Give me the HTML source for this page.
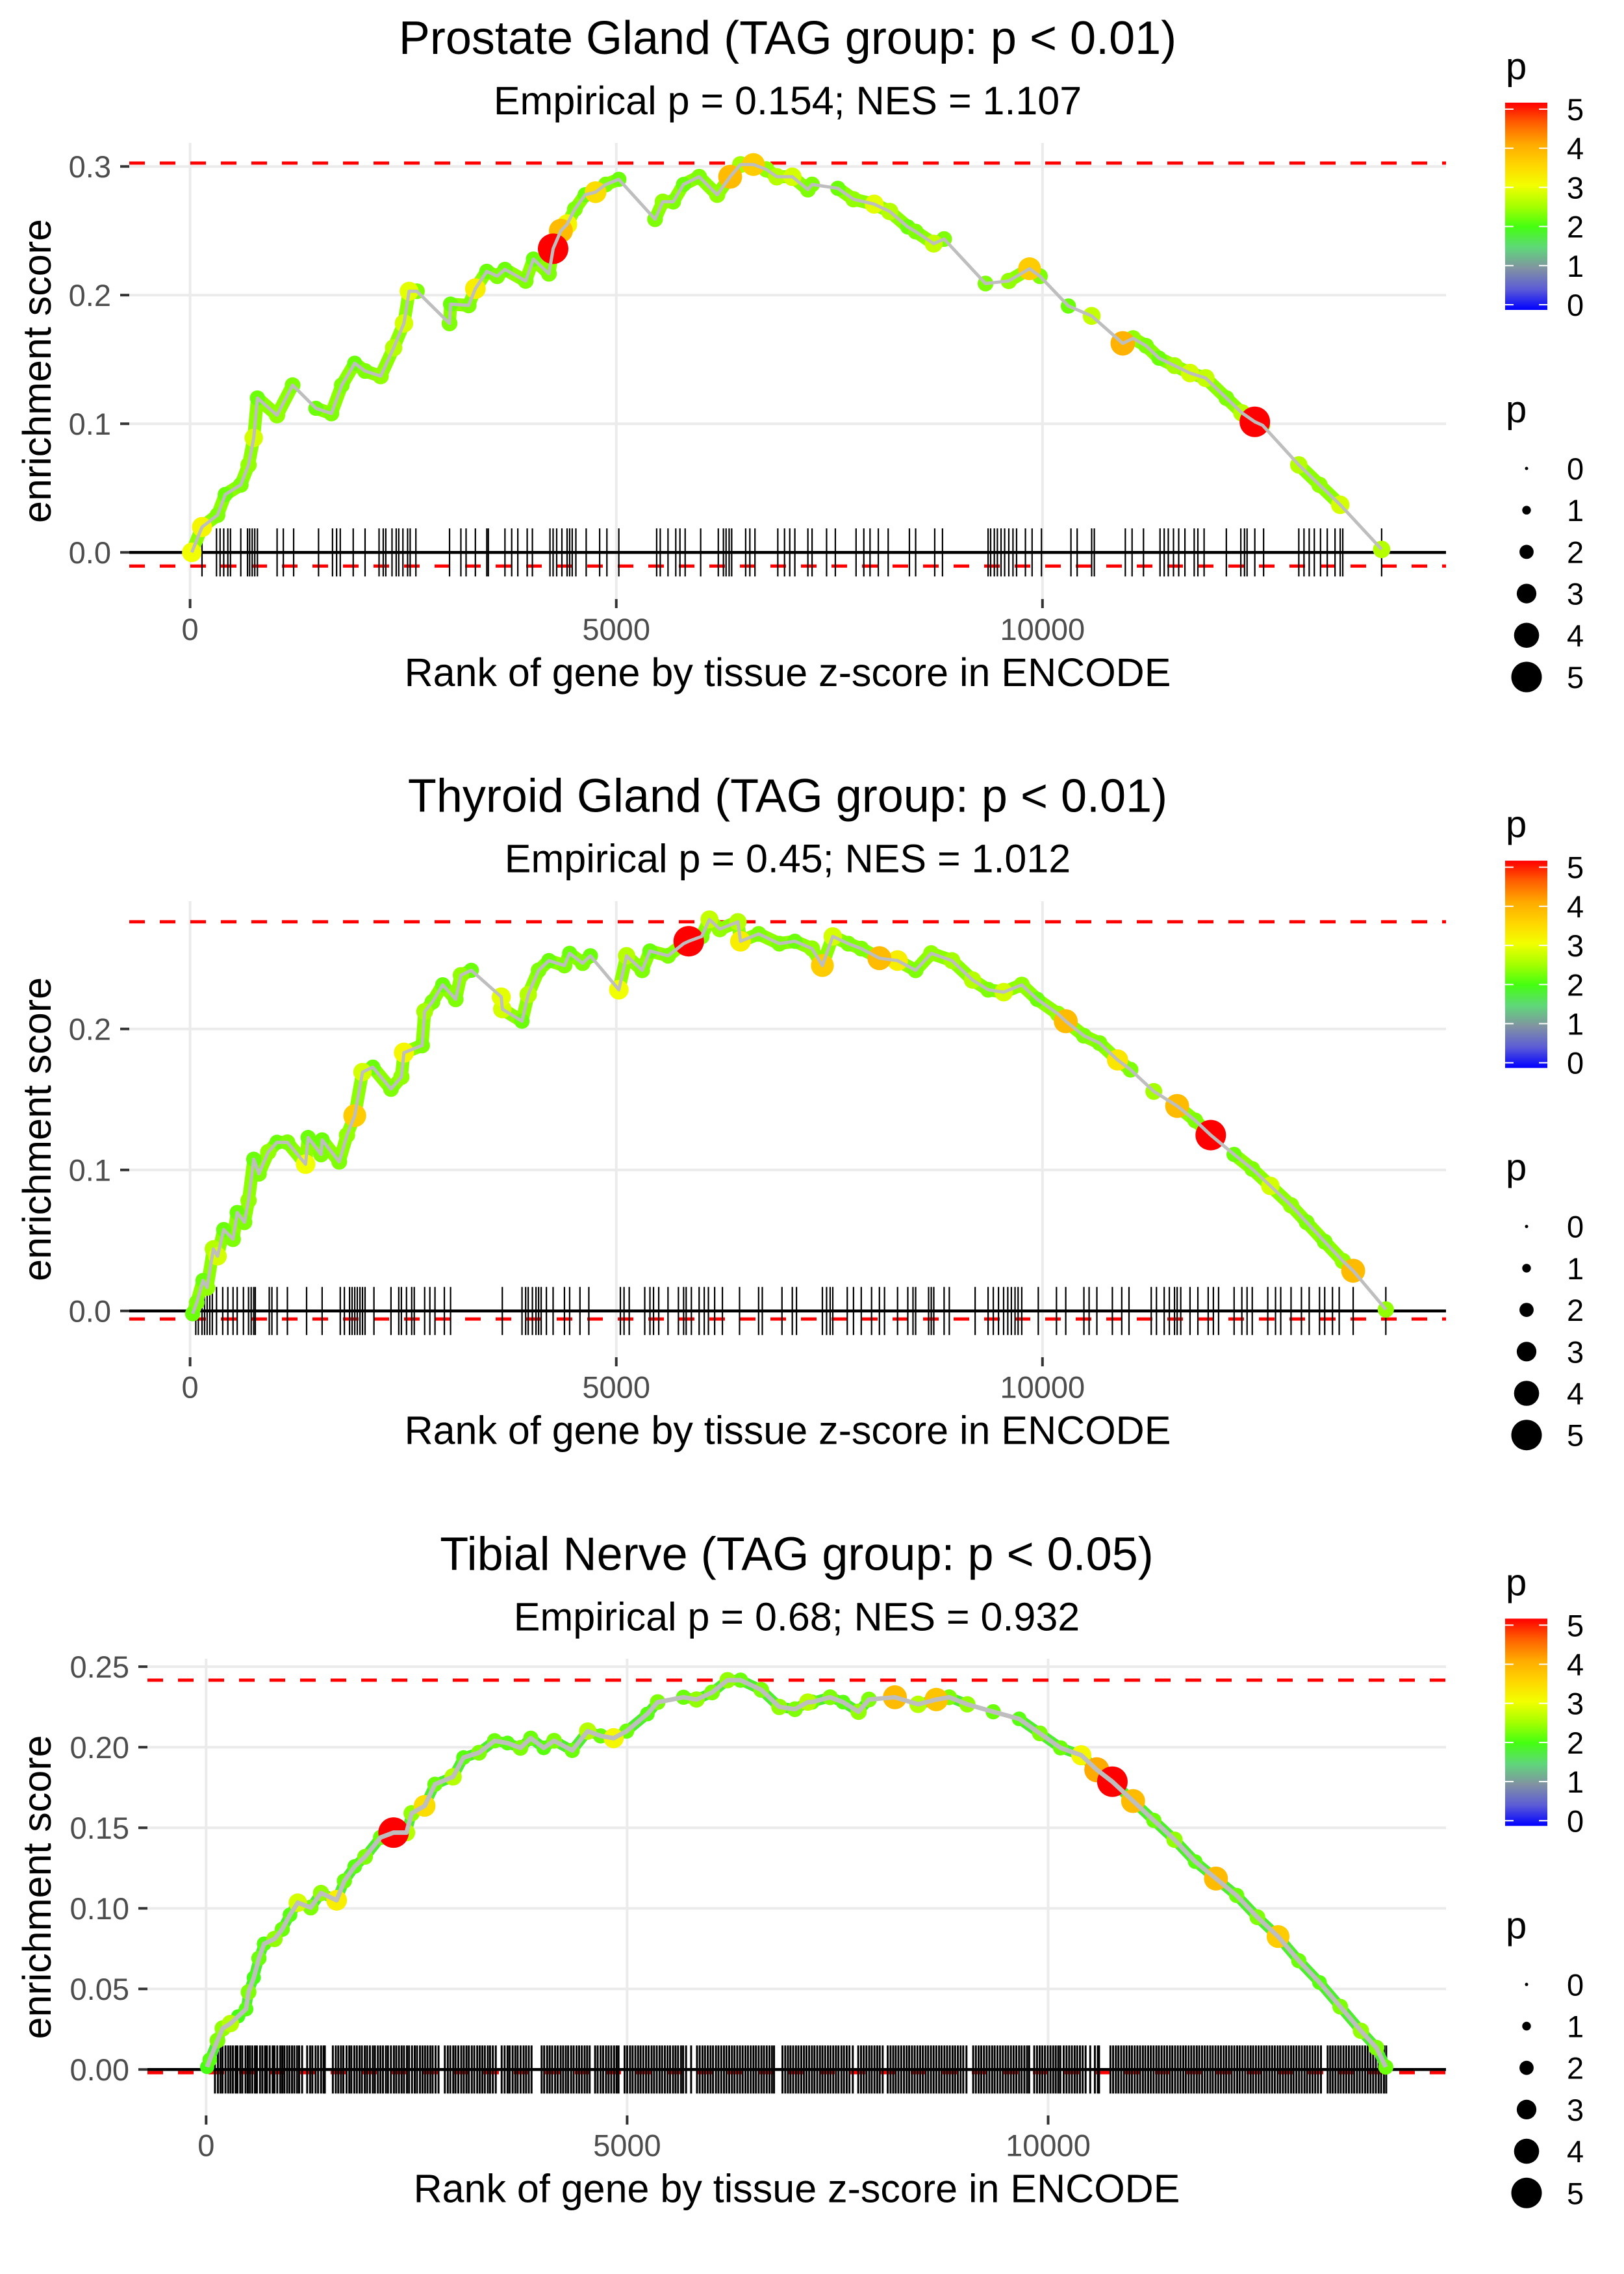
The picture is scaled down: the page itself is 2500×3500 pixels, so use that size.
<!DOCTYPE html>
<html><head><meta charset="utf-8"><style>
html,body{margin:0;padding:0;background:#fff;}
svg{display:block;font-family:"Liberation Sans",Arial,sans-serif;}
</style></head><body>
<svg id="fig" width="2500" height="3500" viewBox="0 0 2500 3500" xmlns="http://www.w3.org/2000/svg">
<defs>
<linearGradient id="pgrad" x1="0" y1="1" x2="0" y2="0">
<stop offset="0" stop-color="#0000ff"/><stop offset="0.1" stop-color="#5c5cd6"/><stop offset="0.2" stop-color="#8192a2"/>
<stop offset="0.3" stop-color="#5fd77a"/><stop offset="0.4" stop-color="#44ff11"/><stop offset="0.5" stop-color="#a6ff00"/>
<stop offset="0.6" stop-color="#f2ff00"/><stop offset="0.7" stop-color="#ffd500"/><stop offset="0.8" stop-color="#ffaa00"/>
<stop offset="0.9" stop-color="#ff6000"/><stop offset="1" stop-color="#ff0000"/>
</linearGradient>
</defs>
</svg>
<script>
// ---------- data: panel 1 (Prostate Gland) ----------
const ranks1=[20,140,322,413,595,686,747,790,1020,1203,1476,1658,1780,1932,2053,2236,2388,2509,2570,2661,3044,3056,3268,3347,3481,3603,3694,3937,4028,4210,4259,4350,4423,4514,4635,4757,4878,5030,5455,5546,5668,5789,5972,6184,6336,6457,6609,6761,6883,7065,7248,7297,7600,7783,8026,8208,8420,8512,8724,8846,9332,9605,9848,9970,10304,10577,10942,11063,11215,11367,11549,11731,11914,12157,12339,12491,12582,13007,13250,13493,13979];
const scores1=[0,0.0197,0.029,0.045,0.0525,0.068,0.089,0.12,0.1066,0.13,0.112,0.108,0.13,0.147,0.141,0.137,0.159,0.178,0.203,0.203,0.178,0.193,0.192,0.205,0.2185,0.2147,0.22,0.211,0.228,0.2166,0.236,0.25,0.255,0.2668,0.278,0.28,0.286,0.29,0.259,0.2726,0.2726,0.286,0.292,0.278,0.292,0.3015,0.3015,0.2977,0.292,0.292,0.282,0.286,0.283,0.2745,0.2707,0.265,0.253,0.2494,0.24,0.2436,0.209,0.211,0.2205,0.2147,0.1915,0.1838,0.1625,0.1664,0.1606,0.151,0.1452,0.1394,0.1355,0.12,0.1085,0.1015,0.0988,0.068,0.0525,0.037,0.0023];
const pvals1=[3,3.1,2.3,2.2,2.3,2.4,2.8,2.2,2.4,2.3,2.2,2.3,2.3,2.2,2.3,2.4,2.6,2.8,2.9,2.3,2.3,2.2,2.3,3.2,2.2,2.3,2.2,2.3,2.2,2.3,5,3.8,3.1,2.3,2.2,3.4,2.3,2.2,2.3,2.4,2.3,2.2,2.3,2.4,3.8,2.5,3.6,2.4,2.6,2.8,2.3,2.3,2.2,2.4,2.9,2.6,2.2,2.3,2.7,2.3,2.3,2.4,3.6,2.3,2.2,2.7,3.9,2.4,2.3,2.2,2.5,2.8,2.7,2.3,2.6,5,2.2,2.6,2.4,2.8,2.6];
const rug1=[140,310,352,395,443,474,595,674,699,729,759,790,1021,1094,1215,1507,1671,1719,1762,1914,2053,2217,2266,2296,2369,2418,2448,2497,2552,2582,2649,3044,3177,3238,3347,3481,3499,3694,3773,3845,3955,4016,4222,4259,4301,4362,4423,4453,4483,4526,4647,4805,4890,5030,5474,5516,5607,5698,5747,5808,5990,6197,6257,6288,6324,6354,6518,6567,6627,6895,6974,7035,7095,7248,7297,7467,7570,7813,7904,7977,8074,8190,8439,8512,8736,8827,9362,9392,9435,9471,9514,9556,9605,9654,9696,9800,9878,9988,10334,10407,10577,10608,10972,11051,11185,11379,11428,11476,11537,11598,11671,11780,11823,11896,12157,12327,12370,12400,12491,12594,13007,13068,13129,13189,13262,13341,13432,13493,13523,13979];
const yTicks1=[0,0.1,0.2,0.3];
const yTickLabels1=["0.0","0.1","0.2","0.3"];
const esMax1=0.3026, esMin1=-0.0106;

// ---------- data: panel 2 (Thyroid Gland) ----------
const ranks2=[30,79,152,200,273,322,395,504,553,638,686,747,808,917,1020,1142,1355,1385,1537,1549,1750,1841,1932,2023,2144,2357,2479,2509,2722,2752,2843,2964,3116,3177,3299,3651,3663,3894,3967,4089,4210,4392,4453,4605,4696,5030,5121,5304,5395,5608,5790,5850,6002,6093,6215,6427,6457,6670,6913,7095,7296,7418,7540,7722,7874,8087,8300,8512,8695,8938,9180,9363,9545,9757,9939,10182,10273,10486,10669,10881,11033,11306,11580,11792,11974,12248,12461,12673,12916,13099,13311,13524,13645,14028];
const scores2=[-0.002,0.006,0.0216,0.0165,0.044,0.0388,0.0577,0.0509,0.0698,0.0629,0.0784,0.1076,0.0973,0.1127,0.1196,0.1196,0.1041,0.123,0.111,0.1213,0.1058,0.1247,0.1385,0.1694,0.1729,0.1574,0.166,0.1832,0.1883,0.2124,0.2192,0.2313,0.221,0.2381,0.2416,0.2227,0.2141,0.2055,0.2244,0.2416,0.2485,0.245,0.2536,0.2467,0.2519,0.2278,0.2519,0.2416,0.2553,0.2519,0.2605,0.2622,0.2656,0.2777,0.2708,0.276,0.2622,0.2674,0.2605,0.2622,0.257,0.245,0.2656,0.2605,0.257,0.2502,0.2485,0.2416,0.2536,0.2485,0.2347,0.2278,0.2261,0.2313,0.221,0.2107,0.2055,0.1952,0.19,0.178,0.1711,0.1557,0.1454,0.1351,0.1247,0.111,0.1007,0.0887,0.0749,0.0629,0.0491,0.0354,0.0285,0.001];
const pvals2=[2.2,2.3,2.2,2.4,2.6,2.8,2.2,2.3,2.2,2.3,2.4,2.2,2.3,2.4,2.2,2.3,3,2.2,2.3,2.2,2.3,2.4,3.6,2.8,2.2,2.3,2.4,3.1,2.3,2.5,2.3,2.2,2.3,2.4,2.2,2.9,2.8,2.2,2.6,2.3,2.2,2.3,2.2,2.3,2.2,3,2.6,2.3,2.2,2.3,2.2,5,2.3,2.7,2.4,2.6,3.2,2.3,2.3,2.2,2.4,3.6,2.8,2.3,2.3,3.8,3.2,2.3,2.4,2.5,2.6,2.3,2.8,2.4,2.2,2.4,3.8,2.3,2.3,3.3,2.3,2.5,3.8,2.3,5,2.2,2.3,2.8,2.4,2.3,2.3,2.4,3.8,2.4];
const rug2=[67,97,140,170,200,231,261,310,383,443,504,553,626,686,717,747,765,929,960,1021,1142,1367,1549,1762,1810,1871,1901,1932,1962,1993,2023,2053,2157,2357,2448,2479,2539,2600,2630,2752,2813,2873,2983,3056,3663,3894,3937,3967,4016,4058,4089,4119,4180,4259,4392,4453,4574,4678,5048,5091,5152,5334,5395,5437,5498,5607,5729,5790,5820,5881,5972,6032,6081,6154,6245,6446,6670,6713,6944,7065,7114,7418,7467,7509,7540,7710,7783,7874,7995,8087,8147,8300,8420,8481,8512,8664,8695,8725,8846,8907,9210,9362,9423,9484,9544,9593,9635,9678,9714,9757,9951,10164,10273,10486,10547,10638,10820,10930,11015,11276,11337,11428,11488,11549,11580,11622,11731,11823,11944,12005,12066,12248,12339,12400,12461,12643,12734,12795,12916,13038,13129,13250,13311,13402,13481,13645,14028];
const yTicks2=[0,0.1,0.2];
const yTickLabels2=["0.0","0.1","0.2"];
const esMax2=0.276, esMin2=-0.0057;

// ---------- data: panel 3 (Tibial Nerve) ----------
const ranks3=[12,43,135,197,289,381,474,504,566,627,689,812,904,996,1089,1242,1365,1550,1642,1765,1888,2072,2226,2380,2441,2595,2718,2933,3057,3241,3426,3579,3733,3856,4010,4133,4348,4532,4686,4840,4994,5240,5363,5670,5824,6009,6193,6347,6593,6808,6993,7146,7196,7411,7565,7749,7872,8180,8456,8672,8825,9041,9348,9656,9902,10148,10394,10578,10763,11009,11255,11501,11747,11993,12239,12485,12731,12977,13223,13469,13715,13899,14010];
const scores3=[0.0015,0.006,0.018,0.0255,0.0285,0.033,0.0375,0.048,0.057,0.069,0.078,0.081,0.087,0.096,0.1035,0.1005,0.1095,0.105,0.117,0.126,0.132,0.144,0.147,0.147,0.159,0.1636,0.177,0.1816,0.1936,0.1966,0.204,0.2026,0.1996,0.2056,0.1996,0.204,0.198,0.21,0.207,0.2056,0.21,0.2206,0.228,0.231,0.2296,0.234,0.2416,0.2416,0.2356,0.225,0.2236,0.228,0.228,0.231,0.228,0.222,0.2296,0.231,0.2266,0.2296,0.231,0.2266,0.222,0.2176,0.2086,0.1996,0.195,0.186,0.1786,0.1666,0.1546,0.1426,0.129,0.1185,0.108,0.0945,0.0825,0.0675,0.054,0.039,0.024,0.0135,0.0015];
const pvals3=[2,2.1,2.3,2.4,2.6,2,2.1,2.3,2,2.2,2.1,2.4,2.2,2.1,2.8,2.3,2.4,3.2,2.2,2.1,2.3,2.2,5,2.6,2.4,3.4,2.2,2.6,2.1,2.3,2.2,2.1,2.3,2.2,2.1,2.3,2.2,2.6,2.2,3.1,2.2,2.1,2.3,2.2,2.4,2.3,2.4,2.2,2.3,2.4,2.3,2.6,2.2,2.3,2.1,2.4,2.3,3.8,2.6,3.7,2.3,2.4,2.2,2.1,2.3,2.2,3.1,4,5,3.8,2.2,2.4,2.1,3.8,2.2,2.3,3.6,2.2,2.1,2.3,2.4,2.3,2.2];
const rug3=[105,140,170,195,230,262,290,318,350,372,405,430,468,495,520,548,580,603,640,668,700,722,755,790,812,845,880,905,930,962,990,1020,1048,1080,1105,1140,
1200,1235,1262,1300,1330,1365,1395,1410,
1505,1540,1570,1602,1630,1668,1700,1725,1760,1790,1822,1850,1885,1912,1945,1980,2005,2040,2070,2100,2135,2160,2195,2230,2258,2290,2322,2350,2385,2410,2445,2478,2505,2540,2570,2600,2630,2662,2690,2725,2760,
2835,2870,2900,2935,2962,2995,3030,3060,3092,3120,3155,3185,3220,3250,3280,3310,3345,3372,3405,3440,
3510,3545,3580,3605,3640,3672,3700,3735,3770,3800,3832,3865,
3985,4015,4050,4080,4110,4145,4175,4210,4240,4272,4300,4335,4365,4400,4430,4462,4495,4525,4555,
4620,4650,4685,4715,4750,4780,4812,4845,4875,4898,
4970,5000,5035,5065,5098,5130,5160,5192,5225,5255,5290,5320,5352,5385,5415,5448,5480,5510,5545,5575,5605,5640,5665,5700,5760,
5830,5862,5895,5925,5958,5990,6020,6055,6085,6118,6150,6180,6212,6245,6275,6308,6340,6372,6405,6435,6468,6500,6530,6562,6595,6625,6658,6690,6720,6745,
6845,6878,6910,6940,6972,7005,7035,7068,7100,7130,7162,7195,7225,7258,7290,7320,7352,7385,7415,7448,7480,7510,7545,7575,7608,7640,7680,
7745,7778,7810,7842,7875,7905,7938,7970,8000,8035,
8095,8128,8160,8190,8222,8255,8288,8320,8350,8383,8415,8448,8480,8512,8545,8575,8608,8640,8672,8705,8735,8768,8800,8832,8865,8895,8928,8960,8992,9030,
9110,9142,9175,9205,9238,9270,9302,9335,9365,9398,9430,9462,9495,9525,9558,9590,9622,9655,9685,9718,9750,9775,
9835,9868,9900,9930,9962,9995,10028,10060,10090,10120,10145,
10185,10218,10250,10282,10315,10345,10378,10410,10445,10500,10555,10590,10605,
10740,10772,10805,10835,10868,10900,10932,10965,10995,11028,11060,11092,11125,11155,11188,11220,11252,11285,11315,11348,11380,11412,11445,11475,11508,11540,11572,11605,11635,11668,11700,11732,11765,11795,11828,11860,11892,11925,11955,11988,12020,12052,12085,12115,12148,12180,12212,12245,12275,12308,12340,12372,12405,12435,12468,12500,12532,12565,12595,12628,12660,12692,12725,12755,12788,12820,12852,12885,12915,12948,12980,13012,13045,13075,13108,13140,13172,13205,13240,
13320,13350,13380,13412,13445,13475,13508,13540,13572,13605,13635,13668,13700,13732,13765,13795,13828,13860,13892,13925,13955,13988,14015];
const yTicks3=[0,0.05,0.1,0.15,0.2,0.25];
const yTickLabels3=["0.00","0.05","0.10","0.15","0.20","0.25"];
const esMax3=0.2416, esMin3=-0.002;

const xTicks=[0,5000,10000];
const xTickLabels=["0","5000","10000"];
const legendValues=[0,1,2,3,4,5];

const titles=["Prostate Gland (TAG group: p < 0.01)","Thyroid Gland (TAG group: p < 0.01)","Tibial Nerve (TAG group: p < 0.05)"];
const subtitles=["Empirical p = 0.154; NES = 1.107","Empirical p = 0.45; NES = 1.012","Empirical p = 0.68; NES = 0.932"];

// ---------- layout ----------
const NS="http://www.w3.org/2000/svg";
const svg=document.getElementById('fig');
function mk(tag,attrs,parent){const e=document.createElementNS(NS,tag);for(const k in attrs)e.setAttribute(k,attrs[k]);(parent||svg).appendChild(e);return e;}
const stops=[[0,[0,0,255]],[0.5,[92,92,214]],[1,[129,146,162]],[1.5,[95,215,122]],[2,[68,255,17]],[2.5,[166,255,0]],[3,[242,255,0]],[3.5,[255,213,0]],[4,[255,170,0]],[4.5,[255,96,0]],[5,[255,0,0]]];
function pColor(p){p=Math.max(0,Math.min(5,p));for(let i=1;i<stops.length;i++){if(p<=stops[i][0]){const a=stops[i-1],b=stops[i];const t=(p-a[0])/(b[0]-a[0]);const c=a[1].map((v,j)=>Math.round(v+(b[1][j]-v)*t));return `rgb(${c[0]},${c[1]},${c[2]})`;}}return 'rgb(255,0,0)';}
function pRadius(p){return 2.5+4.2*p;}

const panels=[
 {o:0,left:199,x0:292.6,kx:0.13122,y0:850.2,ky:1980,top:220,bottom:922,ranks:ranks1,scores:scores1,pvals:pvals1,rug:rug1,yt:yTicks1,ytl:yTickLabels1,mx:esMax1,mn:esMin1,halo:'#8cff00',hw:20,lw:5,rw:2.2},
 {o:1166.7,left:199,x0:292.6,kx:0.13122,y0:2017.7,ky:2170,top:1387,bottom:2089,ranks:ranks2,scores:scores2,pvals:pvals2,rug:rug2,yt:yTicks2,ytl:yTickLabels2,mx:esMax2,mn:esMin2,halo:'#8cff00',hw:20,lw:5,rw:2.2},
 {o:2333.3,left:227,x0:317.3,kx:0.12962,y0:3185.2,ky:2480,top:2553,bottom:3256,ranks:ranks3,scores:scores3,pvals:pvals3,rug:rug3,yt:yTicks3,ytl:yTickLabels3,mx:esMax3,mn:esMin3,halo:'#4cf02a',hw:16,lw:7,rw:3}
];
const RIGHT=2226;

panels.forEach((P,pi)=>{
 const g=mk('g',{});
 
 
 const X=r=>P.x0+r*P.kx, Y=s=>P.y0-s*P.ky;
 const cx=(P.left+RIGHT)/2;
 const t=mk('text',{x:cx,y:P.o+83,'text-anchor':'middle','font-size':72,fill:'#000'},g);t.textContent=titles[pi];
 
 
 const st=mk('text',{x:cx,y:P.o+176,'text-anchor':'middle','font-size':61,fill:'#000'},g);st.textContent=subtitles[pi];
 
 
 xTicks.forEach((v,i)=>{
  const gl=mk('line',{x1:X(v),x2:X(v),y1:P.top,y2:P.bottom,stroke:'#ebebeb','stroke-width':4},g);
  
  
  const tk=mk('line',{x1:X(v),x2:X(v),y1:P.bottom,y2:P.bottom+14,stroke:'#333','stroke-width':4},g);
  
  
  const tl=mk('text',{x:X(v),y:P.o+985,'text-anchor':'middle','font-size':47,fill:'#4d4d4d'},g);tl.textContent=xTickLabels[i];
  
  
 });
 P.yt.forEach((v,i)=>{
  const gl=mk('line',{x1:P.left,x2:RIGHT,y1:Y(v),y2:Y(v),stroke:'#ebebeb','stroke-width':4},g);
  
  
  const tk=mk('line',{x1:P.left-14,x2:P.left,y1:Y(v),y2:Y(v),stroke:'#333','stroke-width':4},g);
  
  
  const tl=mk('text',{x:P.left-28,y:Y(v)+17,'text-anchor':'end','font-size':47,fill:'#4d4d4d'},g);tl.textContent=P.ytl[i];
  
  
 });
 [P.mx,P.mn].forEach((v,i)=>{
  const d=mk('line',{x1:P.left,x2:RIGHT,y1:Y(v),y2:Y(v),stroke:'#ff0000','stroke-width':5,'stroke-dasharray':'24 23'},g);
  
  
 });
 const rg=mk('g',{},g);
 
 
 P.rug.forEach(r=>{
  const l=mk('line',{x1:X(r),x2:X(r),y1:P.y0-37,y2:P.y0+37,stroke:'#000','stroke-width':P.rw},rg);
  
  
 });
 const zl=mk('line',{x1:P.left,x2:RIGHT,y1:P.y0,y2:P.y0,stroke:'#000','stroke-width':4.5},g);
 
 
 for(let i=1;i<P.ranks.length;i++){
  if(P.ranks[i]-P.ranks[i-1]<260){
   const h=mk('line',{x1:X(P.ranks[i-1]),y1:Y(P.scores[i-1]),x2:X(P.ranks[i]),y2:Y(P.scores[i]),stroke:P.halo,'stroke-width':P.hw,'stroke-linecap':'round'},g);
   
   
  }
 }
 const order=P.ranks.map((r,i)=>i).sort((a,b)=>P.pvals[a]-P.pvals[b]);
 order.forEach(i=>{
  const c=mk('circle',{cx:X(P.ranks[i]),cy:Y(P.scores[i]),r:pRadius(P.pvals[i]),fill:pColor(P.pvals[i])},g);
  
  
 });
 const pts=P.ranks.map((r,i)=>X(r).toFixed(1)+','+Y(P.scores[i]).toFixed(1)).join(' ');
 const pl=mk('polyline',{points:pts,fill:'none',stroke:'#bebebe','stroke-width':P.lw,'stroke-linejoin':'round'},g);
 
 
 const xt=mk('text',{x:cx,y:P.o+1056,'text-anchor':'middle','font-size':61,fill:'#000'},g);xt.textContent='Rank of gene by tissue z-score in ENCODE';
 
 
 const cy=(P.top+P.bottom)/2;
 const yt=mk('text',{x:78,y:cy,'text-anchor':'middle','font-size':61,fill:'#000',transform:`rotate(-90 78 ${cy})`},g);yt.textContent='enrichment score';
 
 
 const lg=mk('g',{},g);
 
 
 const lt=mk('text',{x:2318,y:P.o+122,'font-size':58,fill:'#000'},lg);lt.textContent='p';
 
 
 const bar=mk('rect',{x:2317,y:P.o+158,width:65,height:319,fill:'url(#pgrad)'},lg);
 
 
 const LY=v=>P.o+469-v*60.2;
 legendValues.forEach(v=>{
  mk('line',{x1:2317,x2:2330,y1:LY(v),y2:LY(v),stroke:'#fff','stroke-width':2},lg);
  mk('line',{x1:2369,x2:2382,y1:LY(v),y2:LY(v),stroke:'#fff','stroke-width':2},lg);
  const l=mk('text',{x:2412,y:LY(v)+17,'font-size':47,fill:'#000'},lg);l.textContent=String(v);
  
  
 });
 const sg=mk('g',{},g);
 
 
 const sl=mk('text',{x:2318,y:P.o+650,'font-size':58,fill:'#000'},sg);sl.textContent='p';
 
 
 legendValues.forEach(v=>{
  const yy=P.o+721+v*64.2;
  const c=mk('circle',{cx:2350,cy:yy,r:pRadius(v),fill:'#000'},sg);
  
  
  const l=mk('text',{x:2412,y:yy+17,'font-size':47,fill:'#000'},sg);l.textContent=String(v);
  
  
 });
});
</script>
</body></html>
